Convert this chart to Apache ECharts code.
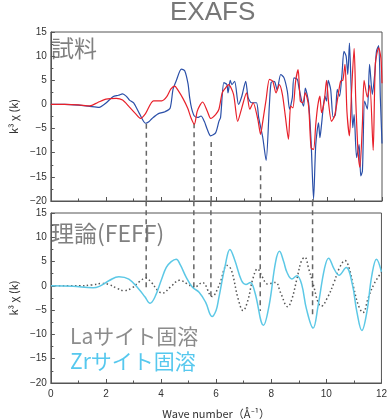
<!DOCTYPE html>
<html>
<head>
<meta charset="utf-8">
<script src="https://cdn.jsdelivr.net/npm/echarts@6/dist/echarts.min.js"></script>
<style>
  html, body { margin: 0; padding: 0; background: #fff; }
  #chart { width: 390px; height: 420px; }
</style>
</head>
<body>
<div id="chart"></div>
<script>
// Measured k^3·chi(k) of the sample (blue and red traces), k in 1/Å
const sampleBlue = [
  [0,0],[0.5,0],[1.0,-0.15],[1.4,-0.4],[1.75,-0.6],[2.0,0.3],[2.25,1.6],[2.45,1.9],[2.6,2.2],[2.75,1.6],
  [2.85,0.9],[3.0,0.3],[3.2,-1.8],[3.43,-3.9],[3.55,-3.6],[3.67,-2.9],[3.9,-1.9],[4.14,-1.5],[4.32,-0.8],
  [4.43,3.2],[4.55,5.0],[4.73,7.3],[4.85,7.0],[4.97,4.3],[5.03,1.4],[5.1,-0.8],[5.2,-2.4],[5.32,-2.7],
  [5.44,-2.4],[5.56,-3.5],[5.67,-5.2],[5.79,-6.5],[5.97,-5.9],[6.09,-3.5],[6.15,-2.7],[6.27,4.5],[6.38,4.1],
  [6.42,2.4],[6.5,5.0],[6.56,4.1],[6.66,4.8],[6.8,0],[6.92,1.7],[7.06,4.8],[7.15,1.4],[7.27,0.35],[7.45,0.35],
  [7.53,-2.7],[7.68,-6.9],[7.8,-11.6],[7.92,0],[7.98,4.5],[8.07,4.8],[8.12,4.6],[8.2,3.0],[8.33,6.2],
  [8.45,5.5],[8.57,2.7],[8.65,-1.0],[8.75,1.4],[8.81,5.5],[8.93,5.2],[8.98,3.8],[9.08,1.0],[9.16,-0.35],
  [9.22,3.4],[9.34,0.35],[9.43,-7.6],[9.52,-19.6],[9.6,-8.3],[9.7,-3.8],[9.75,-6.9],[9.81,-4.1],[9.93,1.7],
  [9.99,0.7],[10.05,5.0],[10.14,3.1],[10.23,-2.7],[10.31,-2.1],[10.38,3.1],[10.46,1.7],[10.55,6.2],
  [10.62,11.0],[10.7,10.0],[10.76,6.2],[10.82,12.7],[10.88,3.8],[10.94,-4.8],[10.99,-2.1],[11.08,-11.0],
  [11.17,-8.3],[11.23,-14.8],[11.29,-13.8],[11.37,0.7],[11.47,-1.0],[11.55,8.3],[11.65,2.1],[11.74,6.5],
  [11.8,11.0],[11.88,12.2],[11.94,1.4],[12,-8.1]
];
const sampleRed = [
  [0,0],[0.5,0],[1.0,-0.1],[1.41,-0.3],[1.7,0.4],[2.0,1.1],[2.37,1.25],[2.6,0.9],[2.84,-0.5],[3.05,-1.8],
  [3.25,-2.9],[3.43,-1.9],[3.72,0.75],[4.02,0.75],[4.2,1.6],[4.35,3.2],[4.49,3.8],[4.6,3.0],[4.79,1.2],
  [4.96,-0.8],[5.08,-2.8],[5.2,-4.1],[5.3,-1.5],[5.4,-0.2],[5.5,0.5],[5.67,-1.4],[5.79,-2.9],[5.97,-2.1],
  [6.09,-1.0],[6.21,2.4],[6.33,3.4],[6.44,4.1],[6.62,2.1],[6.77,-3.5],[6.92,-0.7],[7.09,2.4],[7.21,-1.0],
  [7.33,0.35],[7.5,-3.1],[7.6,-6.2],[7.68,-3.5],[7.8,1.0],[7.92,5.2],[8.04,4.8],[8.16,2.4],[8.28,4.1],
  [8.39,2.1],[8.49,-2.1],[8.61,-7.2],[8.69,-0.35],[8.77,-0.7],[8.87,4.8],[8.96,7.2],[9.04,0.7],[9.13,0.35],
  [9.22,2.4],[9.34,-0.35],[9.43,-9.0],[9.52,-9.3],[9.6,-4.1],[9.67,-0.35],[9.75,1.7],[9.81,-1.7],[9.91,0.7],
  [9.99,5.0],[10.07,0],[10.17,-3.5],[10.28,-2.4],[10.4,1.5],[10.5,4.8],[10.58,5.0],[10.66,8.3],[10.73,-1.5],
  [10.82,-6.5],[10.9,3.0],[10.99,11.6],[11.05,0.7],[11.13,-9.6],[11.2,-13.0],[11.29,-4.0],[11.35,5.0],
  [11.47,1.5],[11.56,4.0],[11.68,-9.5],[11.76,8.5],[11.88,11.7],[11.96,9.6],[12,4.4]
];

// FEFF calculations: La-site (dotted) and Zr-site (cyan) substitution
const feffLa = [
  [0,0],[1.0,0],[1.5,0.2],[1.85,0.5],[2.1,0.3],[2.4,-0.5],[2.65,-1.0],[2.95,-0.4],[3.2,0.8],[3.45,1.6],
  [3.65,0.7],[3.89,-1.0],[4.05,-1.5],[4.35,-0.2],[4.67,1.15],[4.96,0.4],[5.2,-0.3],[5.5,0.7],[5.85,-2.2],
  [6.1,0.0],[6.4,4.2],[6.55,3.3],[6.8,-2.7],[6.98,-5.1],[7.15,-3.0],[7.33,1.4],[7.5,3.5],[7.68,1.8],
  [7.86,0.4],[8.16,0.7],[8.33,-1.3],[8.6,-4.3],[8.75,-2.7],[8.93,1.4],[9.1,5.2],[9.22,5.9],[9.36,3.5],
  [9.52,0.4],[9.7,-3.4],[9.81,-4.2],[10.05,-2.3],[10.28,0.7],[10.46,3.5],[10.68,5.2],[10.82,3.8],
  [10.99,-0.3],[11.17,-4.1],[11.33,-5.5],[11.53,-2.3],[11.76,0.7],[12,2.8]
];
const feffZr = [
  [0,0],[0.8,-0.1],[1.53,-0.4],[1.76,-0.1],[2.12,1.1],[2.47,1.9],[2.83,1.4],[3.18,-0.6],[3.42,-2.3],
  [3.6,-3.6],[3.77,-2.4],[4.01,1.2],[4.19,3.8],[4.37,5.0],[4.55,5.5],[4.7,4.3],[4.91,1.8],[5.14,-0.3],
  [5.38,-1.3],[5.62,-3.4],[5.85,-6.3],[6.0,-5.0],[6.09,-2.7],[6.33,4.2],[6.5,7.5],[6.68,5.2],[6.92,1.1],
  [7.08,0.3],[7.24,0.7],[7.4,-1.2],[7.72,-8.1],[7.92,-4.1],[8.16,5.0],[8.3,7.1],[8.45,5.0],[8.57,2.8],
  [8.75,1.4],[8.93,2.1],[9.1,0.4],[9.28,-4.8],[9.52,-8.7],[9.7,-4.1],[9.93,3.5],[10.08,5.7],[10.28,3.5],
  [10.46,2.2],[10.72,3.8],[10.94,0.4],[11.11,-5.4],[11.29,-9.2],[11.47,-5.4],[11.65,2.1],[11.82,5.5],[12,2.9]
];

// Guide lines linking features of the two panels
const guideK = [3.46, 5.19, 5.81, 7.6, 9.5];
const guideTopFrom = [-4.0, -3.9, -7.8, -12.8, -19.6];
const guideBottomTo = [-1.0, -0.4, -2.3, -5.2, -6.0];

// Axis settings
const xTicks = [0, 2, 4, 6, 8, 10, 12];
const yMin = -20, yMax = 15, yStep = 5;
const GAP_UNITS = 2.4; // space between the two panels, in y units

const labelFont = 'Liberation Sans, Arial, sans-serif';
const jpFont = '"Noto Sans CJK JP", sans-serif';
const axisColor = '#555';

function yAxisCfg(gridIndex) {
  return {
    type: 'value', gridIndex, min: yMin, max: yMax, interval: yStep,
    name: 'k³ χ (k)', nameLocation: 'middle', nameGap: 27,
    nameTextStyle: { fontFamily: jpFont, fontSize: 11, color: '#333' },
    axisLine: { show: true, lineStyle: { color: axisColor, width: 1 } },
    axisTick: { show: true, inside: true, length: 4, lineStyle: { color: axisColor } },
    minorTick: { show: true, splitNumber: 2, length: 2.5, lineStyle: { color: axisColor } },
    splitLine: { show: false },
    axisLabel: {
      fontFamily: labelFont, fontSize: 10, color: '#333', margin: 4,
      formatter: v => String(v).replace('-', '\u2212')
    }
  };
}
function xAxisCfg(gridIndex, showLabels) {
  return {
    type: 'value', gridIndex, min: xTicks[0], max: xTicks[xTicks.length - 1], interval: 2,
    axisLine: { show: true, onZero: false, lineStyle: { color: axisColor, width: 1 } },
    axisTick: { show: true, inside: true, length: 4, lineStyle: { color: axisColor } },
    minorTick: { show: true, splitNumber: 2, length: 2.5, lineStyle: { color: axisColor } },
    splitLine: { show: false },
    axisLabel: { show: showLabels, fontFamily: labelFont, fontSize: 10, color: '#333', margin: 6 },
    name: showLabels ? 'Wave number（Å⁻¹）' : '',
    nameLocation: 'middle', nameGap: 25,
    nameTextStyle: { fontFamily: jpFont, fontSize: 11, color: '#333' }
  };
}

const guideSeries = [];
guideK.forEach((k, i) => {
  guideSeries.push({
    type: 'line', xAxisIndex: 0, yAxisIndex: 0, silent: true, symbol: 'none', clip: false,
    data: [[k, guideTopFrom[i]], [k, yMin]],
    lineStyle: { color: '#666', width: 1.5, type: [5, 4] }, z: 1
  });
  guideSeries.push({
    type: 'line', xAxisIndex: 1, yAxisIndex: 1, silent: true, symbol: 'none', clip: false,
    data: [[k, yMax + GAP_UNITS], [k, guideBottomTo[i]]],
    lineStyle: { color: '#666', width: 1.5, type: [5, 4] }, z: 1
  });
});

const chart = echarts.init(document.getElementById('chart'), null, { renderer: 'canvas' });
chart.setOption({
  animation: false,
  backgroundColor: '#fff',
  title: {
    text: 'EXAFS', left: 170, top: 0, padding: 0,
    textStyle: { fontFamily: labelFont, fontSize: 26, fontWeight: 'normal', color: '#777' }
  },
  grid: [
    { left: 43, top: 32, right: 8, height: 169, show: true, borderColor: axisColor, borderWidth: 1, backgroundColor: 'transparent' },
    { left: 43, top: 213, right: 8, height: 170, show: true, borderColor: axisColor, borderWidth: 1, backgroundColor: 'transparent' }
  ],
  xAxis: [xAxisCfg(0, false), xAxisCfg(1, true)],
  yAxis: [yAxisCfg(0), yAxisCfg(1)],
  graphic: [
    { type: 'text', left: 51, top: 37, style: { text: '試料', font: '23px "Noto Sans CJK JP"', fill: '#808080' } },
    { type: 'text', left: 51, top: 222, style: { text: '理論(FEFF)', font: '23px "Noto Sans CJK JP"', fill: '#808080' } },
    { type: 'text', left: 70, top: 326, style: { text: 'Laサイト固溶', font: '21px "Noto Sans CJK JP"', fill: '#8c8c8c' } },
    { type: 'text', left: 70, top: 351, style: { text: 'Zrサイト固溶', font: '21px "Noto Sans CJK JP"', fill: '#56c8ee' } }
  ],
  series: guideSeries.concat([
    { name: 'blue', type: 'line', xAxisIndex: 0, yAxisIndex: 0, data: sampleBlue, symbol: 'none', smooth: 0.25,
      lineStyle: { color: '#2a4fa8', width: 1.2 }, z: 3 },
    { name: 'red', type: 'line', xAxisIndex: 0, yAxisIndex: 0, data: sampleRed, symbol: 'none', smooth: 0.25,
      lineStyle: { color: '#e8202a', width: 1.2 }, z: 3 },
    { name: 'La', type: 'line', xAxisIndex: 1, yAxisIndex: 1, data: feffLa, symbol: 'none', smooth: 0.4,
      lineStyle: { color: '#555', width: 1.5, type: [1.5, 2.5] }, z: 3 },
    { name: 'Zr', type: 'line', xAxisIndex: 1, yAxisIndex: 1, data: feffZr, symbol: 'none', smooth: 0.4,
      lineStyle: { color: '#5cc8e6', width: 1.5 }, z: 4 }
  ])
});
</script>
</body>
</html>
